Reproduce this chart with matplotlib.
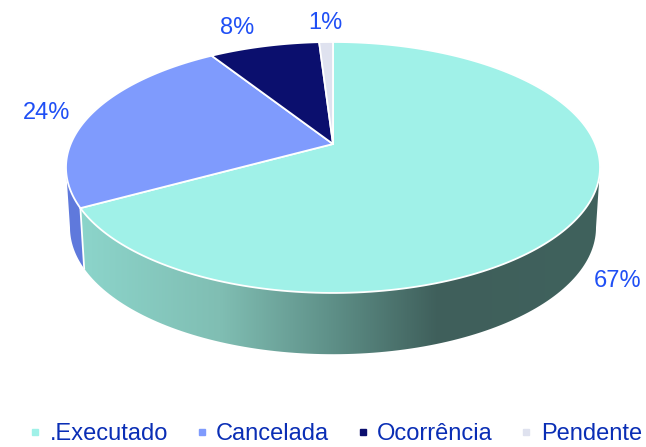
import matplotlib
matplotlib.use('Agg')
import matplotlib.pyplot as plt
import numpy as np
from matplotlib.colors import LinearSegmentedColormap
from matplotlib.lines import Line2D
from matplotlib.patches import Polygon

categories = ['.Executado', 'Cancelada', 'Ocorrência', 'Pendente']
values = [67, 24, 8, 1]
colors = ['#A0F1E8', '#7F9BFD', '#0B0F6E', '#DFE2EF']

plt.rcParams['font.family'] = ['Liberation Sans', 'DejaVu Sans']

CX, CY = 333, 144
RX, RY, K = 262.3, 121.1, 0.187
DEPTH = 60
WIDTH_SHRINK = 0.985
WIDEST = np.arccos(-K)  # angle where the tilted disc is widest


def top_point(ang):
    # angle clockwise from 12 o'clock on the tilted disc, in pixels
    u, v = np.sin(ang), np.cos(ang)
    w = 1 + K * v
    return CX + RX * u / w, CY - RY * v / w


def bottom_point(ang):
    x, y = top_point(ang)
    return CX + (x - CX) * WIDTH_SHRINK, y + DEPTH + (y - 167) * 0.01


def wall(a0, a1):
    angs = np.linspace(a0, a1, 120)
    top = np.array([top_point(a) for a in angs])
    bot = np.array([bottom_point(a) for a in angs])
    return np.vstack([top, bot[::-1]])


fig = plt.figure(figsize=(6.46, 4.47), dpi=100)
ax = fig.add_axes([0, 0, 1, 1])
ax.axis('off')

edges = 2 * np.pi * np.cumsum([0] + values) / sum(values)

# side walls, only the front half shows
side_cmap = LinearSegmentedColormap.from_list(
    'side', [(0, '#8CD5CB'), (0.27, '#80BEB3'), (0.48, '#5F9189'), (0.69, '#3F5F5B'), (1, '#40625D')])
wall_teal = Polygon(wall(WIDEST, edges[1]), closed=True, fc='none', ec='none')
ax.add_patch(wall_teal)
img = ax.imshow(np.linspace(0, 1, 256).reshape(1, -1), cmap=side_cmap, extent=(79, 600, 360, 160),
                aspect='auto', zorder=1)
img.set_clip_path(wall_teal)
ax.set_xlim(0, 646)
ax.set_ylim(447, 0)

ax.add_patch(Polygon(wall(edges[1], 2 * np.pi - WIDEST), closed=True, fc='#5F79DC', ec='none', zorder=1))
wx, wy = zip(top_point(edges[1]), bottom_point(edges[1]))
ax.plot(wx, wy, color='white', lw=1.3, zorder=2)

# top of the disc
for i, val in enumerate(values):
    angs = np.linspace(edges[i], edges[i + 1], 200)
    pts = [(CX, CY)] + [top_point(a) for a in angs]
    ax.add_patch(Polygon(pts, closed=True, fc=colors[i], ec='white', lw=1.3, joinstyle='round', zorder=3))

label_pos = [(618, 281), (47, 113), (237, 28), (325, 23)]
for val, pos in zip(values, label_pos):
    ax.text(pos[0], pos[1], f'{val}%', color='#1F4FF5', fontsize=17, ha='center', va='center')

handles = [Line2D([], [], ls='', marker='s', ms=5, color=c) for c in colors]
ax.legend(handles, categories, loc='lower center', bbox_to_anchor=(0.515, -0.033), ncol=4, frameon=False,
          fontsize=17, labelcolor='#0A2EB5', handletextpad=0.1, columnspacing=0.93, handlelength=1.0,
          borderaxespad=0.3)

plt.savefig('out.png', dpi=100)
